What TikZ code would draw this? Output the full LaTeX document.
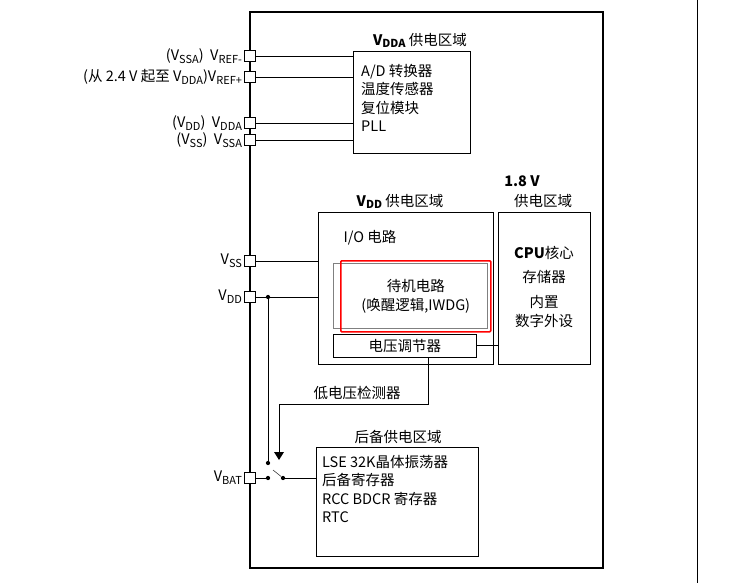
\documentclass[tikz,border=0pt]{standalone}
\usepackage{fontspec}
\setmainfont{Noto Sans CJK SC}
\newcommand{\lsub}[1]{\raisebox{-0.35ex}{\fontsize{11}{11}\selectfont #1}}
\begin{document}
\begin{tikzpicture}[x=1pt,y=-1pt,font=\fontsize{14.5}{18.5}\selectfont,
 pin/.style={draw,fill=white,minimum size=11pt,inner sep=0pt,line width=0.7pt},
 box/.style={draw,line width=0.7pt},
 dot/.style={circle,fill,inner sep=1.5pt},
 lbl/.style={anchor=east,inner sep=2pt}]
\useasboundingbox (0,0) rectangle (738,583);
\draw (697,0) -- (697,583);
\draw[line width=1.8pt] (250,12) rectangle (603,568);
% boxes
\node[box,minimum width=117pt,minimum height=102pt,anchor=north west] (adc) at (353,51) {};
\node[anchor=south,inner sep=1pt] at (420,49) {\textbf{V\lsub{DDA}} 供电区域};
\node[anchor=north west,align=left,inner sep=0pt] at (361,64) {A/D 转换器\\温度传感器\\复位模块\\PLL};
\node[box,minimum width=175pt,minimum height=152pt,anchor=north west] (vdd) at (318,212) {};
\node[anchor=south,inner sep=1pt] at (400,210) {\textbf{V\lsub{DD}} 供电区域};
\node[anchor=west] at (340,238) {I/O 电路};
\node[draw=gray,minimum width=154pt,minimum height=65pt,anchor=north west] (stb) at (333,263) {};
\node[draw=red,line width=1.5pt,rounded corners=1pt,minimum width=150pt,minimum height=71pt,anchor=north west,align=center] (red) at (340,260) {待机电路\\(唤醒逻辑,IWDG)};
\node[box,minimum width=143pt,minimum height=23pt,anchor=north west] (reg) at (333,334) {};
\node at (reg.center) {电压调节器};
\node[box,minimum width=92pt,minimum height=152pt,anchor=north west] (cpu) at (498,212) {};
\node[font=\fontsize{14.5}{18}\bfseries] at (522,181) {1.8 V};
\node at (543,201) {供电区域};
\node[align=center] at (544,287) {\textbf{CPU}核心\\[5pt]存储器\\[7pt]内置\\数字外设};
\node[box,minimum width=162pt,minimum height=109pt,anchor=north west] (bkp) at (316,447) {};
\node[anchor=south,inner sep=1pt] at (398,445) {后备供电区域};
\node[anchor=north west,align=left,inner sep=0pt] at (322,455) {LSE 32K晶体振荡器\\后备寄存器\\RCC BDCR 寄存器\\RTC};
% pins
\foreach \n/\y in {p1/56,p2/77,p3/123,p4/140,p5/261,p6/297,p7/478}{\node[pin] (\n) at (250,\y) {};}
\node[lbl] at (p1.west) {(V\lsub{SSA}) \ V\lsub{REF-}};
\node[lbl] at (p2.west) {(从 2.4 V 起至 V\lsub{DDA})V\lsub{REF+}};
\node[lbl] at (p3.west) {(V\lsub{DD}) \ V\lsub{DDA}};
\node[lbl] at (p4.west) {(V\lsub{SS}) \ V\lsub{SSA}};
\node[lbl] at (p5.west) {V\lsub{SS}};
\node[lbl] at (p6.west) {V\lsub{DD}};
\node[lbl] at (p7.west) {V\lsub{BAT}};
\foreach \n/\y in {p1/56,p2/77,p3/123,p4/140}{\draw (\n.east) -- (353,\y);}
\draw (p5.east) -- (318,261);
\draw (p6.east) -- (318,297);
\node[dot] (d1) at (268,297) {};
\node[dot] (d2) at (268,463) {};
\node[dot] (d3) at (268,478) {};
\node[dot] (d4) at (283,478) {};
\draw (d1) -- (d2);
\draw (p7.east) -- (d3);
\draw (d4) -- (316,478);
\draw (273,470) -- (d4);
\draw (reg.east |- 0,345) -- (cpu.west |- 0,345);
\coordinate (lv) at (279,452);
\draw (428,357) -- (428,404) -- (279,404) -- (lv);
\fill (274,452) -- (284,452) -- (279,460) -- cycle;
\node at (357,393) {低电压检测器};
\end{tikzpicture}
\end{document}
